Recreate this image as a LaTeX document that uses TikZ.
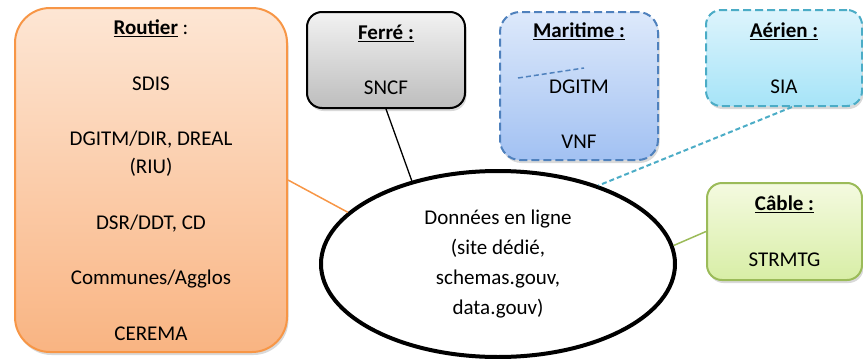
\documentclass[tikz,border=0pt]{standalone}
\usepackage{fontspec}
\setmainfont{Carlito}
\usetikzlibrary{shapes.geometric,shadows}
\definecolor{orbd}{HTML}{F79646}
\definecolor{ortop}{HTML}{FDE6D4}
\definecolor{orbot}{HTML}{F9B482}
\definecolor{grtop}{HTML}{F2F2F2}
\definecolor{grbot}{HTML}{BDBDBD}
\definecolor{blbd}{HTML}{4F81BD}
\definecolor{bltop}{HTML}{DDE9FB}
\definecolor{blbot}{HTML}{A2C1F2}
\definecolor{cybd}{HTML}{4BACC6}
\definecolor{cytop}{HTML}{DDF4FC}
\definecolor{cybot}{HTML}{A6E4F8}
\definecolor{gnbd}{HTML}{9BBB59}
\definecolor{gntop}{HTML}{F4FAE0}
\definecolor{gnbot}{HTML}{D8EEA6}
\newcommand{\gap}{\\[27.8pt]}
\begin{document}
\begin{tikzpicture}[x=1pt,y=-1pt,
  font=\fontsize{21}{27.8}\selectfont,
  box/.style={rectangle, line width=2pt, align=center, inner sep=0pt,
    drop shadow={opacity=0.3,shadow xshift=1.5pt,shadow yshift=-3pt}},
  boxdash/.style={dash pattern=on 8pt off 4pt},
  linedash/.style={dash pattern=on 5pt off 3pt},
]
\useasboundingbox (0,0) rectangle (863,359);

\node[box, draw=orbd, top color=ortop, bottom color=orbot, rounded corners=35pt,
  minimum width=272pt, minimum height=344pt] (routier) at (151,180)
  {\underline{\textbf{Routier}} :\gap SDIS\gap DGITM/DIR, DREAL\\ (RIU)\gap DSR/DDT, CD\gap Communes/Agglos\gap CEREMA};

\node[box, draw=black, top color=grtop, bottom color=grbot, rounded corners=15pt,
  minimum width=158pt, minimum height=96pt] (ferre) at (386,60)
  {\underline{\textbf{Ferré :}}\gap SNCF};

\node[box, draw=blbd, boxdash, top color=bltop, bottom color=blbot, rounded corners=20pt,
  minimum width=158pt, minimum height=148pt] (maritime) at (579,86)
  {\underline{\textbf{Maritime :}}\gap DGITM\gap VNF};

\node[box, draw=cybd, boxdash, top color=cytop, bottom color=cybot, rounded corners=15pt,
  minimum width=156pt, minimum height=96pt] (aerien) at (784,58)
  {\underline{\textbf{Aérien :}}\gap SIA};

\node[box, draw=gnbd, top color=gntop, bottom color=gnbot, rounded corners=15pt,
  minimum width=155pt, minimum height=97pt] (cable) at (784.5,231.5)
  {\underline{\textbf{Câble :}}\gap STRMTG};

\node[ellipse, draw=black, fill=white, line width=4pt, inner sep=0pt, align=center,
  minimum width=354pt, minimum height=186pt, font=\fontsize{21}{29.7}\selectfont] (ell) at (498,264)
  {Données en ligne\\ (site dédié,\\ schemas.gouv,\\ data.gouv)};

\coordinate (m1) at (518,78);
\coordinate (m2) at (584,68);
\draw[blbd, linedash, line width=1.5pt] (m1) -- (m2);

\draw[orbd, line width=1.5pt] (routier.east) -- (ell.161);
\draw[black, line width=1.3pt] (ferre.south) -- (ell.136);
\draw[cybd, linedash, line width=2pt] ([xshift=8pt]aerien.south) -- (ell.38);
\draw[gnbd, line width=1.5pt] (cable.west) -- (ell.6);
\end{tikzpicture}
\end{document}
